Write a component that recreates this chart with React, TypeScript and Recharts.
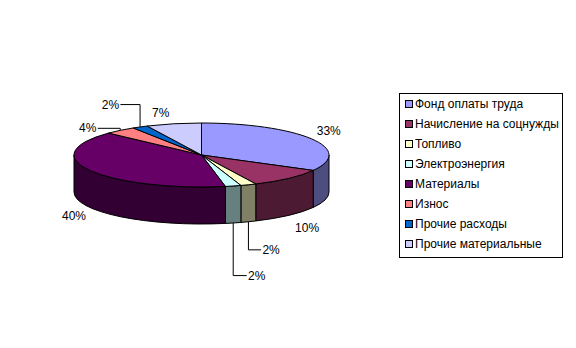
import { Customized, Legend, Pie, PieChart } from "recharts";

const NAMES = [
  "Фонд оплаты труда",
  "Начисление на соцнужды",
  "Топливо",
  "Электроэнергия",
  "Материалы",
  "Износ",
  "Прочие расходы",
  "Прочие материальные",
];
const SHARES = [33, 10, 2, 2, 40, 4, 2, 7];
const COLORS = ["#9999FF", "#993366", "#FFFFCC", "#CCFFFF", "#660066", "#FF8080", "#0066CC", "#CCCCFF"];

// Excel shoved the crowded labels out of the way, we do the same by hand
const LABEL_NUDGE: [number, number][] = [
  [2, -1],
  [6, 3],
  [16, 16],
  [19, 40],
  [0, 2],
  [-21, 8],
  [-21, -11],
  [-9, 2],
];

const data = NAMES.map((name, i) => ({ name, value: SHARES[i] }));

const FONT = "Arial, 'Liberation Sans', sans-serif";
const TILT = 0.251; // ry / rx of the flattened pie
const DEPTH = 37; // height of the side wall

const shade = (hex: string) => {
  const n = parseInt(hex.slice(1), 16);
  const c = [(n >> 16) & 255, (n >> 8) & 255, n & 255].map((v) => Math.round(v / 2));
  return `rgb(${c.join(",")})`;
};

// draws one slice as a 3D elliptical wedge, using the angles Recharts computed
function Slice3D(props: any) {
  const { cx, cy, outerRadius, startAngle, endAngle, midAngle, percent, index } = props;
  const rx = outerRadius;
  const ry = outerRadius * TILT;
  const pt = (a: number, dy = 0, kx = rx, ky = ry): [number, number] => {
    const r = (a * Math.PI) / 180;
    return [cx + kx * Math.cos(r), cy - ky * Math.sin(r) + dy];
  };

  const [sx, sy] = pt(startAngle);
  const [ex, ey] = pt(endAngle);
  const large = Math.abs(startAngle - endAngle) > 180 ? 1 : 0;
  const top = `M${cx},${cy} L${sx},${sy} A${rx},${ry} 0 ${large} 1 ${ex},${ey} Z`;

  // only the front half (angles -180..0) shows a wall
  const hi = Math.min(startAngle, 0);
  const lo = Math.max(endAngle, -180);
  let wall: string | null = null;
  if (hi > lo) {
    const [ax, ay] = pt(hi);
    const [bx, by] = pt(lo);
    wall = `M${ax},${ay} A${rx},${ry} 0 0 1 ${bx},${by} L${bx},${by + DEPTH} A${rx},${ry} 0 0 0 ${ax},${ay + DEPTH} Z`;
  }

  const front = Math.sin((midAngle * Math.PI) / 180) < 0;
  const dz = front ? DEPTH : 0;
  const base = pt(midAngle, dz, rx + 18, ry + 13);
  const lx = base[0] + LABEL_NUDGE[index][0];
  const ly = base[1] + LABEL_NUDGE[index][1];

  let leader: string | null = null;
  if (percent < 0.05) {
    const edge = pt(midAngle, dz);
    const dir = lx > edge[0] ? -1 : 1;
    const side = lx + dir * 10;
    leader = `${side},${ly} ${edge[0]},${ly} ${edge[0]},${edge[1]}`;
  }

  return (
    <g>
      {wall && <path d={wall} fill={shade(COLORS[index])} stroke="#000" strokeWidth={1} />}
      <path d={top} fill={COLORS[index]} stroke="#000" strokeWidth={1} />
      {leader && <polyline points={leader} fill="none" stroke="#000" strokeWidth={1} />}
      <text x={lx} y={ly} textAnchor="middle" dominantBaseline="central" fontFamily={FONT} fontSize={12} fill="#000">
        {`${Math.round(percent * 100)}%`}
      </text>
    </g>
  );
}

// thin frame round the whole chart area, as in the Excel export
const Frame = () => <rect x={5.5} y={5.5} width={565} height={338} fill="none" stroke="#000" strokeWidth={1} />;

const renderLegend = () => (
  <div
    style={{
      border: "1px solid #000",
      background: "#fff",
      width: 164,
      height: 165,
      boxSizing: "border-box",
      fontFamily: FONT,
      fontSize: 12,
      color: "#000",
    }}
  >
    {NAMES.map((n, i) => (
      <div key={n} style={{ display: "flex", alignItems: "center", height: 20, paddingLeft: 5, whiteSpace: "nowrap" }}>
        <span
          style={{
            width: 6,
            height: 6,
            background: COLORS[i],
            border: "1px solid #000",
            marginRight: 2,
            flex: "none",
          }}
        />
        {n}
      </div>
    ))}
  </div>
);

export default function App() {
  return (
    <div style={{ width: 576, height: 348, margin: -8, background: "#fff", fontFamily: FONT }}>
      <PieChart width={576} height={348} margin={{ top: 0, right: 0, bottom: 0, left: 0 }}>
        <Customized component={Frame} />
        <Pie
          data={data}
          dataKey="value"
          nameKey="name"
          cx={201.5}
          cy={155}
          outerRadius={127.5}
          startAngle={90}
          endAngle={-270}
          fill="none"
          stroke="none"
          label={Slice3D}
          labelLine={false}
          isAnimationActive={false}
        />
        <Legend
          layout="vertical"
          align="right"
          verticalAlign="top"
          content={renderLegend}
          wrapperStyle={{ left: 399, top: 93, width: 164, height: 165 }}
        />
      </PieChart>
    </div>
  );
}
